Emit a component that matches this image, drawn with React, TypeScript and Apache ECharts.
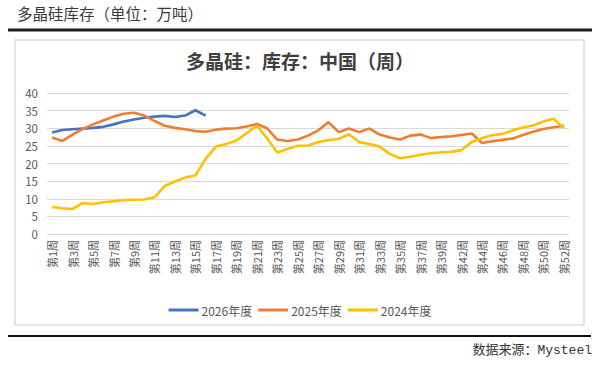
import React, { useEffect, useRef } from "react";
import * as echarts from "echarts";

const weeks: number[] = [
  1, 2, 3, 4, 5, 6, 7, 8, 9, 10, 11, 12, 13, 14, 15, 16, 17, 18, 19, 20,
  21, 22, 23, 24, 25, 26, 27, 28, 29, 30, 31, 32, 33, 34, 35, 36, 37, 38, 39, 40,
  42, 43, 44, 45, 46, 47, 48, 49, 50, 51, 52,
];
const categories: string[] = weeks.map((w) => `第${w}周`);

const s2026: number[] = [
  28.8, 29.5, 29.7, 29.9, 30.1, 30.4, 31.1, 31.9, 32.5, 33.0, 33.3, 33.5, 33.2, 33.6, 35.1, 33.6,
];

const s2025: number[] = [
  27.4, 26.4, 28.2, 29.8, 31.1, 32.2, 33.3, 34.1, 34.4, 33.6, 32.1, 30.7, 30.1, 29.7, 29.2, 29.0,
  29.6, 29.9, 30.0, 30.5, 31.2, 30.0, 26.8, 26.4, 26.8, 27.9, 29.4, 31.7, 28.9, 29.9,
  28.9, 29.9, 28.2, 27.4, 26.8, 27.9, 28.2, 27.2, 27.5, 27.7, 28.1, 28.5, 25.8, 26.3,
  26.7, 27.1, 28.1, 29.0, 29.8, 30.3, 30.7,
];

const s2024: number[] = [
  7.7, 7.3, 7.1, 8.8, 8.5, 9.0, 9.3, 9.6, 9.7, 9.8, 10.4, 13.6, 14.9, 16.0, 16.6, 21.3,
  24.8, 25.5, 26.5, 28.6, 30.7, 27.2, 23.1, 24.1, 25.0, 25.1, 26.1, 26.6, 27.0, 28.3,
  26.1, 25.5, 24.8, 22.7, 21.5, 21.9, 22.5, 22.9, 23.2, 23.3, 23.8, 26.1, 27.2, 28.0,
  28.4, 29.4, 30.2, 30.8, 31.9, 32.7, 30.0,
];

const seriesNames: string[] = ["2026年度", "2025年度", "2024年度"];
const colors: string[] = ["#4472C4", "#ED7D31", "#FFC000"];

export default function App() {
  const ref = useRef<HTMLDivElement>(null);
  useEffect(() => {
    if (!ref.current) return;
    const chart = echarts.init(ref.current, null, { renderer: "svg" });
    const cjk = '"Noto Sans CJK SC", sans-serif';
    const mk = (name: string, data: number[], color: string) => ({
      name,
      type: "line",
      data,
      symbol: "none",
      smooth: false,
      lineStyle: { color, width: 2.6 },
      itemStyle: { color },
    });
    chart.setOption({
      animation: false,
      backgroundColor: "#ffffff",
      textStyle: { fontFamily: cjk },
      graphic: [
        {
          type: "text",
          left: 17,
          top: 5,
          style: { text: "多晶硅库存（单位：万吨）", fontSize: 15.5, fill: "#3a3a3a", fontFamily: cjk },
        },
        {
          type: "line",
          shape: { x1: 8, y1: 30, x2: 592, y2: 30 },
          style: { stroke: "#1f1f1f", lineWidth: 3 },
        },
        {
          type: "rect",
          shape: { x: 15, y: 40, width: 569, height: 285 },
          style: { fill: "none", stroke: "#DCDCDC", lineWidth: 1.5 },
        },
        {
          type: "line",
          shape: { x1: 8, y1: 336, x2: 591, y2: 336 },
          style: { stroke: "#111111", lineWidth: 2 },
        },
        {
          type: "text",
          right: 8,
          top: 344,
          style: {
            text: "数据来源：Mysteel",
            fontSize: 13,
            fill: "#333333",
            fontFamily: '"Liberation Mono", "Noto Sans CJK SC", monospace',
          },
        },
        {
          type: "text",
          left: "center",
          top: 51,
          style: {
            text: "多晶硅：库存：中国（周）",
            fontSize: 19,
            fontWeight: "bold",
            fill: "#404040",
            fontFamily: cjk,
          },
        },
      ],
      legend: {
        top: 299,
        left: "center",
        icon: "rect",
        itemWidth: 30,
        itemHeight: 3,
        itemGap: 6,
        data: seriesNames,
        textStyle: { color: "#595959", fontSize: 12, fontFamily: cjk, padding: [0, 0, 0, -2] },
      },
      grid: { left: 47, right: 31, top: 93, bottom: 141, containLabel: false },
      xAxis: {
        type: "category",
        data: categories,
        boundaryGap: true,
        axisLine: { lineStyle: { color: "#D9D9D9", width: 1 } },
        axisTick: { show: false },
        axisLabel: {
          interval: 1,
          rotate: 90,
          color: "#595959",
          fontSize: 11,
          margin: 6,
          fontFamily: cjk,
        },
      },
      yAxis: {
        type: "value",
        min: 0,
        max: 40,
        interval: 5,
        axisLine: { show: false },
        axisTick: { show: false },
        axisLabel: { color: "#595959", fontSize: 11.5, margin: 9 },
        splitLine: { lineStyle: { color: "#D9D9D9", width: 1 } },
      },
      series: [
        mk(seriesNames[0], s2026, colors[0]),
        mk(seriesNames[1], s2025, colors[1]),
        mk(seriesNames[2], s2024, colors[2]),
      ],
    });
    return () => chart.dispose();
  }, []);
  return (
    <div
      ref={ref}
      style={{ position: "absolute", left: 0, top: 0, width: 600, height: 375 }}
    />
  );
}
